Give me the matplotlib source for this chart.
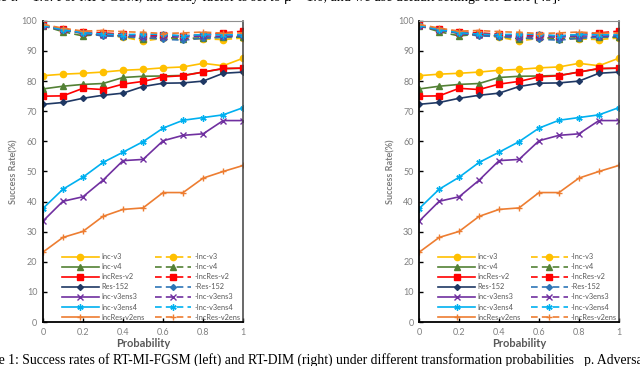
import numpy as np
import matplotlib
matplotlib.use("Agg")
import matplotlib.pyplot as plt

# transformation probability
probs = [0, 0.1, 0.2, 0.3, 0.4, 0.5, 0.6, 0.7, 0.8, 0.9, 1.0]

models = ["Inc-v3", "Inc-v4", "IncRes-v2", "Res-152", "Inc-v3ens3", "Inc-v3ens4", "IncRes-v2ens"]

# solid lines (baseline attack)
inc_v3 = [81.8, 82.3, 82.6, 83.0, 83.6, 83.9, 84.4, 84.7, 85.9, 85.1, 87.6]
inc_v4 = [77.4, 78.3, 78.9, 79.2, 81.2, 81.6, 81.7, 81.9, 83.0, 84.1, 84.3]
incres_v2 = [75.0, 75.1, 77.6, 77.2, 79.0, 79.9, 81.4, 81.8, 83.0, 84.2, 84.3]
res_152 = [72.3, 72.9, 74.3, 75.3, 76.0, 78.2, 79.3, 79.4, 80.0, 82.6, 83.0]
inc_v3ens3 = [33.5, 40.1, 41.6, 47.1, 53.6, 54.0, 60.2, 62.0, 62.5, 66.9, 66.9]
inc_v3ens4 = [37.7, 44.1, 48.1, 53.0, 56.4, 59.9, 64.4, 67.0, 67.9, 68.8, 71.2]
incres_v2ens = [23.2, 28.1, 30.1, 35.1, 37.4, 37.9, 43.0, 43.0, 47.8, 50.0, 52.0]

# dashed lines (RT version)
rt_inc_v3 = [98.5, 97.0, 95.8, 95.3, 94.6, 93.3, 94.2, 94.0, 94.0, 93.8, 94.3]
rt_inc_v4 = [98.4, 96.4, 95.0, 95.6, 94.9, 94.0, 94.6, 94.1, 94.4, 94.5, 94.6]
rt_incres_v2 = [98.6, 97.3, 96.3, 96.0, 95.6, 95.0, 95.3, 95.0, 95.4, 96.0, 96.6]
rt_res_152 = [98.3, 96.9, 95.9, 95.0, 94.8, 94.4, 93.9, 93.6, 94.2, 94.6, 94.9]
rt_inc_v3ens3 = [98.4, 97.0, 95.9, 95.4, 95.3, 94.7, 94.8, 94.6, 95.0, 94.9, 95.2]
rt_inc_v3ens4 = [98.5, 97.1, 96.1, 95.6, 95.4, 95.6, 95.5, 95.0, 95.5, 95.4, 95.4]
rt_incres_v2ens = [98.8, 97.6, 96.6, 96.8, 96.4, 96.2, 95.8, 96.0, 96.3, 95.9, 96.0]

solid = [inc_v3, inc_v4, incres_v2, res_152, inc_v3ens3, inc_v3ens4, incres_v2ens]
dashed = [rt_inc_v3, rt_inc_v4, rt_incres_v2, rt_res_152, rt_inc_v3ens3, rt_inc_v3ens4, rt_incres_v2ens]

colors = ["#FFC000", "#538135", "#FF0000", "#1F3864", "#7030A0", "#00B0F0", "#ED7D31"]
dcolors = ["#FFC000", "#538135", "#FF0000", "#2E75B6", "#7030A0", "#00B0F0", "#ED7D31"]
markers = ["o", "^", "s", "D", "x", (6, 2, 0), "+"]
msizes = [4.5, 4.2, 4.0, 3.0, 4.0, 4.5, 5.0]

plt.rcParams["font.family"] = ["Lato", "DejaVu Sans"]

fig = plt.figure(figsize=(6.4, 3.66), dpi=100)


def panel(rect):
    ax = fig.add_axes(rect)
    handles = []
    for s, c, m, ms, name in zip(solid, colors, markers, msizes, models):
        h, = ax.plot(probs, s, color=c, marker=m, markersize=ms, lw=1.2,
                     markeredgewidth=1.0, label=name)
        handles.append(h)
    for s, c, m, ms, name in zip(dashed, dcolors, markers, msizes, models):
        h, = ax.plot(probs, s, color=c, marker=m, markersize=ms, lw=1.2,
                     markeredgewidth=1.0, ls=(0, (4, 2.5)), label="-" + name)
        handles.append(h)
    ax.set_xlim(0, 1)
    ax.set_ylim(0, 100)
    ax.set_xticks([0, 0.2, 0.4, 0.6, 0.8, 1.0])
    ax.set_xticklabels(["0", "0.2", "0.4", "0.6", "0.8", "1"])
    ax.set_yticks(range(0, 101, 10))
    ax.tick_params(direction="in", length=3, width=1, colors="black",
                   labelcolor="#808080", labelsize=6.5, pad=4)
    for side in ["left", "bottom"]:
        ax.spines[side].set_color("black")
        ax.spines[side].set_linewidth(1.3)
    ax.spines["right"].set_color("#404040")
    ax.spines["right"].set_linewidth(1.1)
    ax.spines["top"].set_color("#909090")
    ax.spines["top"].set_linewidth(0.8)
    ax.set_xlabel("Probability", fontsize=8, fontweight="bold", color="#595959", labelpad=1)
    ax.set_ylabel("Success Rate(%)", fontsize=6.5, fontweight="bold", color="#808080", labelpad=2)
    leg = ax.legend(handles=handles, ncol=2, loc="lower left", bbox_to_anchor=(0.08, -0.005),
                    frameon=False, fontsize=5.3, handlelength=5.0, handletextpad=0.4,
                    columnspacing=1.3, labelspacing=0.42, borderaxespad=0)
    for t in leg.get_texts():
        t.set_color("#595959")
    return ax


panel([0.067, 0.120, 0.313, 0.823])
panel([0.655, 0.120, 0.312, 0.823])

# caption fragments cut off by the crop
fig.text(-0.095, 0.9975, "the step size α = 1.6. For MI-FGSM, the decay factor is set to μ = 1.0, "
         "and we use default settings for DIM [49].",
         family=["Liberation Serif"], fontsize=10, va="baseline", ha="left")
fig.text(-0.048, 0.006, "Figure 1: Success rates of RT-MI-FGSM (left) and RT-DIM (right) under different "
         "transformation probabilities   p. Adversarial examples are",
         family=["Liberation Serif"], fontsize=9.8, va="baseline", ha="left")

fig.savefig("out.png", dpi=100)
